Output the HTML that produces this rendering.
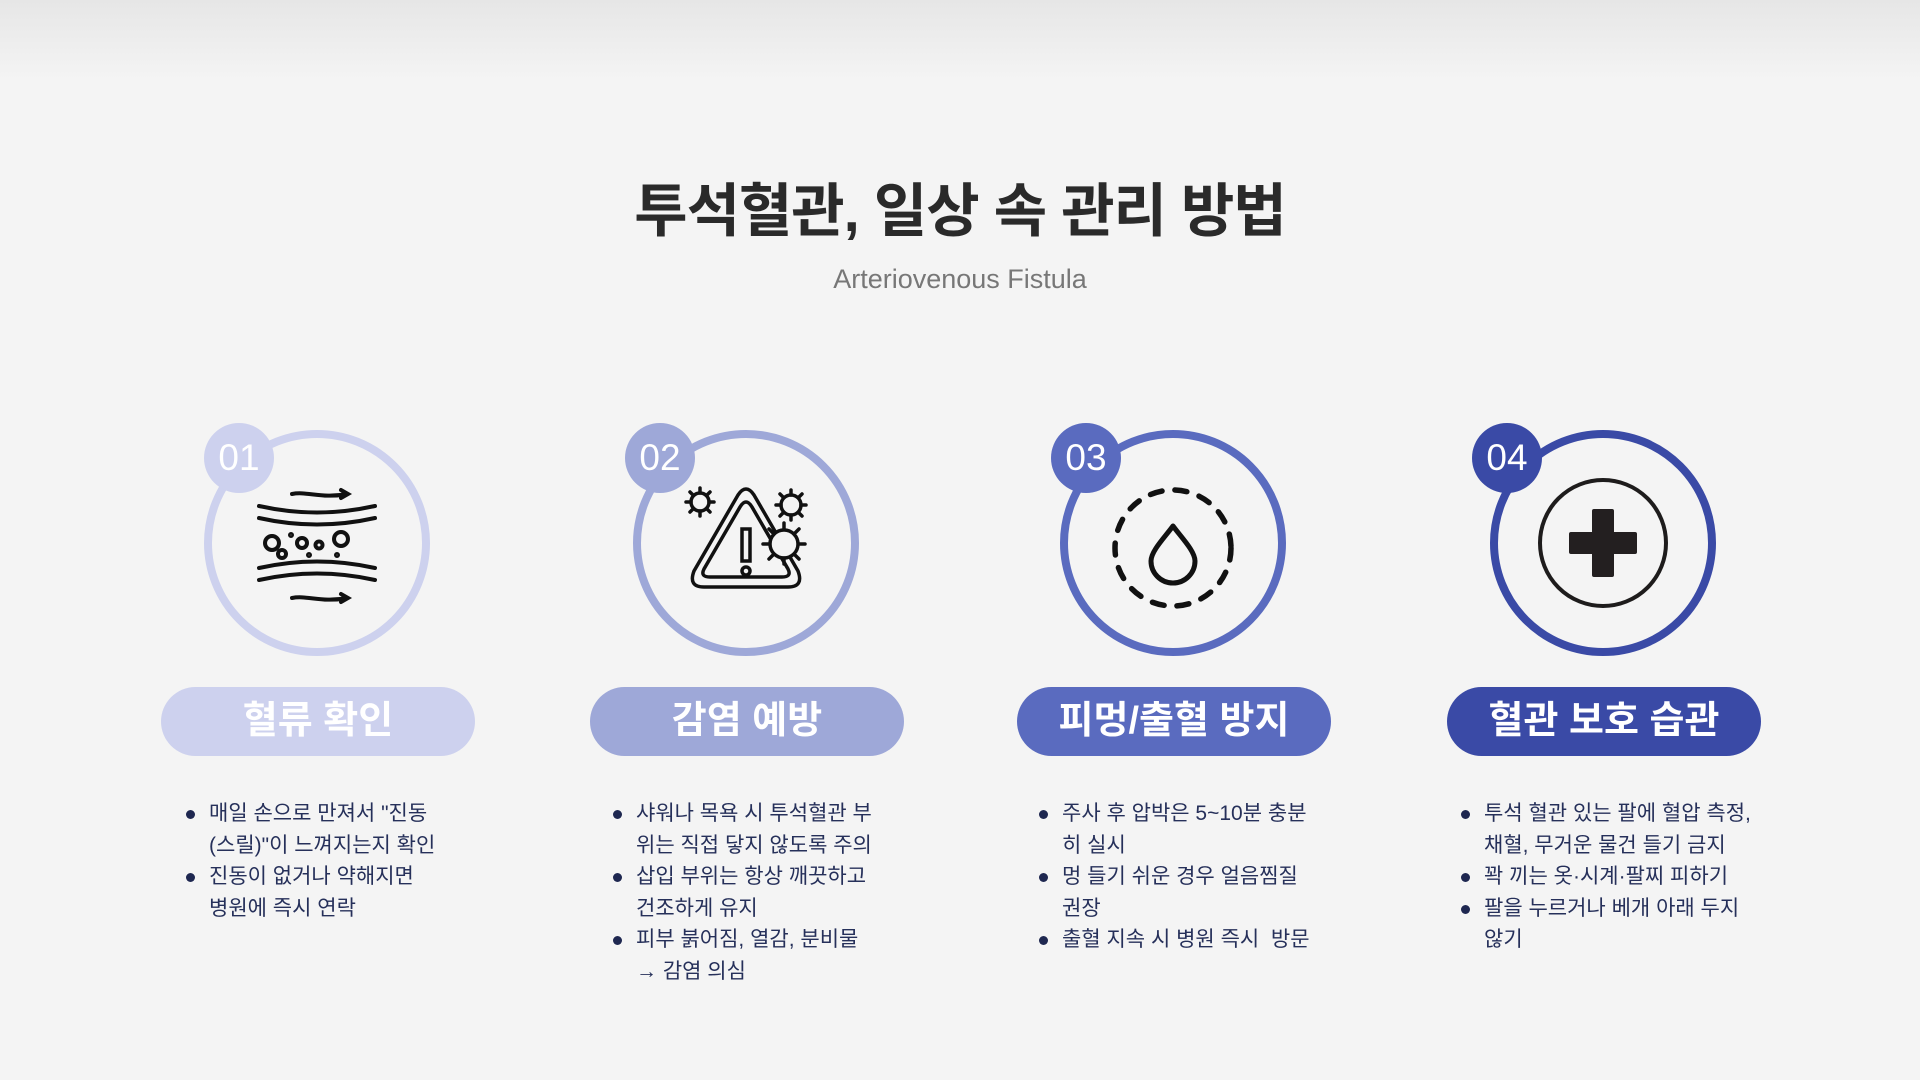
<!DOCTYPE html>
<html><head><meta charset="utf-8"><style>
*{margin:0;padding:0;box-sizing:border-box}
body{width:1920px;height:1080px;overflow:hidden;background:#f4f4f4;font-family:"Liberation Sans","Noto Sans CJK KR",sans-serif;position:relative}
.top{position:absolute;left:0;top:0;width:1920px;height:80px;background:linear-gradient(#e6e6e6,#f4f4f4)}
.title{position:absolute;left:0;width:1920px;top:173px;text-align:center;font-size:58px;font-weight:bold;color:#2a2a2a;line-height:78px;letter-spacing:-1px}
.sub{position:absolute;left:0;width:1920px;top:262px;text-align:center;font-size:27px;color:#777;line-height:34px}
.col{position:absolute;top:0;width:1px;height:1080px}
.ring{position:absolute;left:-113px;top:430px;width:226px;height:226px;border-radius:50%;border:8px solid}
.badge{position:absolute;top:423px;width:70px;height:70px;border-radius:50%;color:#fff;font-size:37px;text-align:center;line-height:70px}
.pill{position:absolute;left:-156px;top:687px;width:314px;height:69px;border-radius:35px;color:#fff;font-size:38px;font-weight:bold;text-align:center;line-height:69px}
svg.ic{position:absolute;left:-113px;top:430px}
ul{position:absolute;left:-108px;top:798px;width:300px;list-style:none;font-size:21px;line-height:31.5px;color:#26305a}
li{position:relative;white-space:nowrap}
li.b:before{content:"";position:absolute;left:-23px;top:12px;width:9px;height:9px;border-radius:50%;background:#1e2750}
</style></head><body>
<div class="top"></div>
<div class="title">투석혈관, 일상 속 관리 방법</div>
<div class="sub">Arteriovenous Fistula</div>

<div class="col" style="left:317px">
<div class="ring" style="border-color:#cdd1ee"></div>
<svg class="ic" width="226" height="226" viewBox="-113 -113 226 226" fill="none" stroke="#111" stroke-width="4" stroke-linecap="round">
<path d="M-58,-37 Q0,-24 58,-37"/><path d="M-58,-25 Q0,-12 58,-25"/>
<path d="M-58,37 Q0,24 58,37"/><path d="M-58,25 Q0,12 58,25"/>
<path d="M-25,-49 C-10,-52 5,-44 30,-49 M24,-53 L31,-49 L24,-45"/>
<path d="M-25,55 C-10,52 5,60 30,55 M24,51 L31,55 L24,59"/>
<circle cx="-45" cy="0" r="7"/><circle cx="-35" cy="11" r="4"/><circle cx="-15" cy="0" r="5"/><circle cx="2" cy="2" r="3.5"/><circle cx="24" cy="-4" r="7"/>
<circle cx="-26" cy="-8" r="1" fill="#111"/><circle cx="-8" cy="12" r="1" fill="#111"/><circle cx="20" cy="12" r="1" fill="#111"/>
</svg>
<div class="badge" style="background:#cdd1ee;left:-113px">01</div>
<div class="pill" style="background:#cdd1ee">혈류 확인</div>
<ul><li class="b">매일 손으로 만져서 "진동</li><li>(스릴)"이 느껴지는지 확인</li><li class="b">진동이 없거나 약해지면</li><li>병원에 즉시 연락</li></ul>
</div>

<div class="col" style="left:746px">
<div class="ring" style="border-color:#9ea8d8"></div>
<svg class="ic" width="226" height="226" viewBox="-113 -113 226 226" fill="none" stroke="#111" stroke-width="3.5" stroke-linecap="round">
<path d="M-8,-48 Q0,-60 8,-48 L52,28 Q58,44 42,44 L-42,44 Q-58,44 -52,28 Z"/>
<path d="M-6,-36 Q0,-46 6,-36 L42,26 Q46,34 36,34 L-36,34 Q-46,34 -42,26 Z"/>
<rect x="-4" y="-14" width="8" height="32"/><circle cx="0" cy="28" r="4"/>
<circle cx="-46" cy="-41" r="9"/><path d="M-46,-55v5M-46,-32v5M-60,-41h5M-37,-41h5M-56,-51l3,3M-39,-34l3,3M-56,-31l3,-3M-39,-48l3,-3"/>
<circle cx="45" cy="-38" r="10"/><path d="M45,-53v5M45,-28v5M30,-38h5M55,-38h5M34,-49l3,3M53,-30l3,3M34,-27l3,-3M53,-46l3,-3"/>
<circle cx="38" cy="1" r="14" fill="#f4f4f4"/><path d="M38,-20v6M38,15v6M17,1h6M53,1h6M23,-14l4,4M49,12l4,4M23,16l4,-4M49,-10l4,-4"/>
</svg>
<div class="badge" style="background:#9ea8d8;left:-121px">02</div>
<div class="pill" style="background:#9ea8d8">감염 예방</div>
<ul style="left:-110px"><li class="b">샤워나 목욕 시 투석혈관 부</li><li>위는 직접 닿지 않도록 주의</li><li class="b">삽입 부위는 항상 깨끗하고</li><li>건조하게 유지</li><li class="b">피부 붉어짐, 열감, 분비물</li><li>→ 감염 의심</li></ul>
</div>

<div class="col" style="left:1173px">
<div class="ring" style="border-color:#5a6bbf"></div>
<svg class="ic" width="226" height="226" viewBox="-113 -113 226 226" fill="none" stroke="#111" stroke-linecap="round">
<circle cx="0" cy="5" r="58" stroke-width="5.5" stroke-dasharray="12 13"/>
<path d="M0,-17 C-8,-6 -22,8 -22,18 A22,22 0 0 0 22,18 C22,8 8,-6 0,-17 Z" stroke-width="5" stroke-linejoin="round"/>
</svg>
<div class="badge" style="background:#5a6bbf;left:-122px">03</div>
<div class="pill" style="background:#5a6bbf">피멍/출혈 방지</div>
<ul style="left:-111px"><li class="b">주사 후 압박은 5~10분 충분</li><li>히 실시</li><li class="b">멍 들기 쉬운 경우 얼음찜질</li><li>권장</li><li class="b">출혈 지속 시 병원 즉시 &nbsp;방문</li></ul>
</div>

<div class="col" style="left:1603px">
<div class="ring" style="border-color:#3a4aa6"></div>
<svg class="ic" width="226" height="226" viewBox="-113 -113 226 226">
<circle cx="0" cy="0" r="63" fill="none" stroke="#1e1c1c" stroke-width="4"/>
<rect x="-11" y="-34" width="22" height="68" rx="2" fill="#231f20"/>
<rect x="-34" y="-11" width="68" height="22" rx="2" fill="#231f20"/>
</svg>
<div class="badge" style="background:#3a4aa6;left:-131px">04</div>
<div class="pill" style="background:#3a4aa6">혈관 보호 습관</div>
<ul style="left:-119px"><li class="b">투석 혈관 있는 팔에 혈압 측정,</li><li>채혈, 무거운 물건 들기 금지</li><li class="b">꽉 끼는 옷·시계·팔찌 피하기</li><li class="b">팔을 누르거나 베개 아래 두지</li><li>않기</li></ul>
</div>
</body></html>
